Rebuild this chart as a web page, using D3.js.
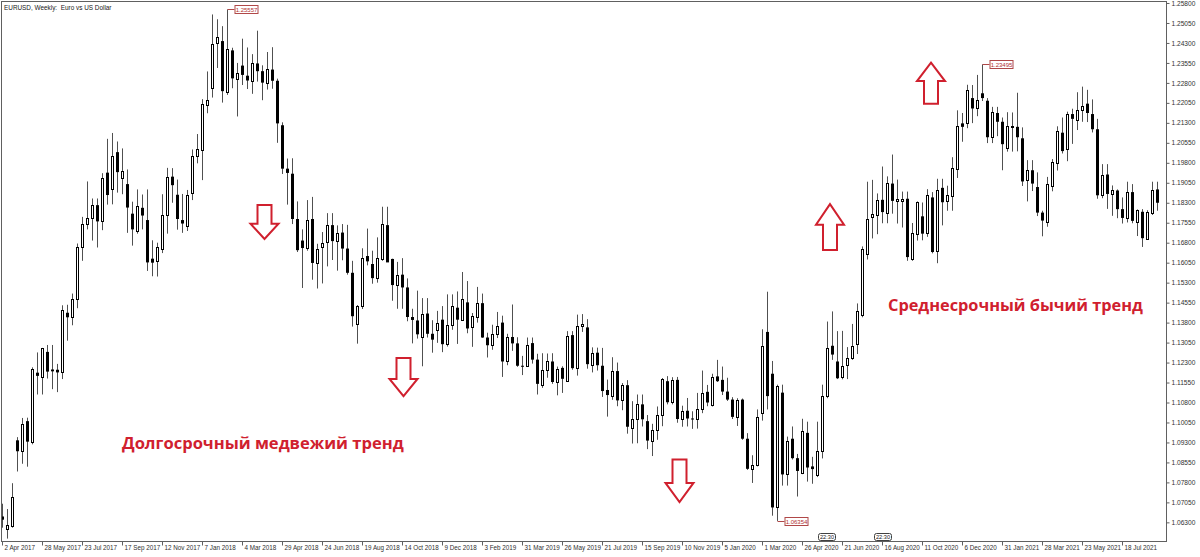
<!DOCTYPE html>
<html><head><meta charset="utf-8">
<script src="https://cdn.jsdelivr.net/npm/d3@7"></script>
<style>body{margin:0;background:#fff}svg{display:block}</style>
</head><body>
<svg id="c" width="1200" height="557"></svg>
<script>
const opens=[1.0652,1.0605,1.0615,1.0938,1.0897,1.1010,1.0933,1.1192,1.1175,1.1270,1.1204,1.1203,1.1194,1.1417,1.1400,1.1470,1.1665,1.1752,1.1772,1.1821,1.1760,1.1943,1.1880,1.2020,1.1922,1.1900,1.1789,1.1723,1.1811,1.1765,
1.1620,1.1612,1.1658,1.1785,1.1928,1.1860,1.1765,1.1743,1.1867,1.2005,1.2027,1.2197,1.2262,1.2428,1.2437,1.2246,1.2402,1.2293,1.2345,1.2307,1.2288,1.2353,1.2324,1.2281,1.2330,1.2288,1.2121,1.1958,1.1939,1.1769,
1.1688,1.1659,1.1769,1.1604,1.1662,1.1684,1.1746,1.1686,1.1718,1.1658,1.1567,1.1375,1.1441,1.1630,1.1600,1.1547,1.1619,1.1746,1.1619,1.1521,1.1560,1.1512,1.1401,1.1388,1.1325,1.1414,1.1338,1.1352,1.1391,1.1299,
1.1371,1.1436,1.1391,1.1456,1.1365,1.1401,1.1453,1.1324,1.1295,1.1336,1.1380,1.1234,1.1326,1.1302,1.1218,1.1217,1.1303,1.1241,1.1145,1.1201,1.1234,1.1157,1.1210,1.1162,1.1333,1.1208,1.1369,1.1362,1.1221,1.1267,
1.1218,1.1127,1.1104,1.1198,1.1088,1.1145,1.0986,1.1019,1.1073,1.1010,1.0937,1.0976,1.1032,1.1160,1.1081,1.1165,1.1019,1.1049,1.1020,1.1019,1.1054,1.1120,1.1071,1.1178,1.1165,1.1121,1.1091,1.1026,1.1091,1.0944,
1.0831,1.0846,1.1041,1.1345,1.1188,1.0686,1.1117,1.0810,1.0944,1.0871,1.0817,1.0966,1.0840,1.0806,1.0897,1.1106,1.1293,1.1234,1.1175,1.1220,1.1247,1.1299,1.1410,1.1638,1.1778,1.1785,1.1841,1.1792,1.1902,1.1837,
1.1838,1.1845,1.1619,1.1714,1.1779,1.1717,1.1850,1.1649,1.1886,1.1837,1.1854,1.1958,1.2128,1.2128,1.2223,1.2187,1.2241,1.2213,1.2076,1.2167,1.2134,1.2037,1.2116,1.2115,1.2072,1.1915,1.1952,1.1889,1.1793,1.1756,
1.1893,1.1978,1.2093,1.2030,1.2163,1.2141,1.2180,1.2202,1.2163,1.2106,1.1858,1.1936,1.1863,1.1876,1.1806,1.1773,1.1870,1.1759,1.1796,1.1694,1.1793,1.1880];
const highs=[1.0700,1.0680,1.0777,1.0950,1.1022,1.1023,1.1212,1.1268,1.1285,1.1296,1.1296,1.1225,1.1445,1.1447,1.1489,1.1677,1.1777,1.1910,1.1846,1.1846,1.1941,1.2070,1.2092,1.2060,1.2034,1.1955,1.1834,1.1880,1.1861,1.1880,
1.1689,1.1680,1.1862,1.1961,1.1960,1.1917,1.1863,1.1878,1.2030,1.2088,1.2219,1.2323,1.2537,1.2519,1.2493,1.25557,1.2412,1.2355,1.2446,1.2413,1.2388,1.2476,1.2346,1.2396,1.2414,1.2296,1.2132,1.1996,1.1997,1.1835,
1.1730,1.1840,1.1852,1.1676,1.1720,1.1791,1.1791,1.1745,1.1750,1.1747,1.1612,1.1446,1.1659,1.1733,1.1650,1.1700,1.1815,1.1815,1.1620,1.1608,1.1622,1.1546,1.1432,1.1500,1.1472,1.1472,1.1389,1.1424,1.1442,1.1486,
1.1486,1.1497,1.1570,1.1536,1.1416,1.1514,1.1489,1.1342,1.1372,1.1420,1.1406,1.1338,1.1448,1.1325,1.1255,1.1324,1.1324,1.1263,1.1265,1.1264,1.1265,1.1215,1.1216,1.1348,1.1348,1.1410,1.1412,1.1393,1.1287,1.1286,
1.1285,1.1166,1.1250,1.1230,1.1153,1.1164,1.1085,1.1110,1.1110,1.1033,1.1000,1.1065,1.1172,1.1179,1.1175,1.1176,1.1068,1.1097,1.1047,1.1116,1.1200,1.1146,1.1188,1.1240,1.1215,1.1173,1.1100,1.1096,1.1095,1.0965,
1.0882,1.1054,1.1355,1.1496,1.1236,1.1147,1.1147,1.0952,1.0990,1.0887,1.1019,1.1008,1.0876,1.1008,1.1147,1.1384,1.1422,1.1348,1.1349,1.1288,1.1375,1.1452,1.1666,1.1909,1.1916,1.1865,1.1966,1.1929,1.2011,1.1917,
1.1872,1.1872,1.1754,1.1835,1.1831,1.1881,1.1870,1.1920,1.1920,1.1894,1.2001,1.2177,1.2167,1.2273,1.2272,1.2310,1.23495,1.2223,1.2190,1.2190,1.2150,1.2170,1.2169,1.2243,1.2113,1.1990,1.1990,1.1944,1.1800,1.1927,
1.1994,1.2117,1.2150,1.2172,1.2183,1.2245,1.2266,1.2254,1.2218,1.2145,1.1975,1.1975,1.1895,1.1880,1.1850,1.1909,1.1900,1.1805,1.1806,1.1802,1.1909,1.1909];
const lows=[1.0610,1.0569,1.0610,1.0821,1.0850,1.0839,1.0923,1.1110,1.1110,1.1170,1.1130,1.1119,1.1168,1.1312,1.1370,1.1434,1.1612,1.1730,1.1688,1.1662,1.1727,1.1823,1.1824,1.1868,1.1862,1.1717,1.1669,1.1714,1.1730,1.1574,
1.1554,1.1553,1.1641,1.1714,1.1830,1.1729,1.1717,1.1724,1.1840,1.1978,1.1915,1.2166,1.2225,1.2336,1.2206,1.2235,1.2260,1.2154,1.2272,1.2257,1.2239,1.2285,1.2215,1.2255,1.2258,1.2055,1.1938,1.1823,1.1750,1.1645,
1.1510,1.1650,1.1541,1.1508,1.1527,1.1591,1.1615,1.1575,1.1614,1.1560,1.1365,1.1301,1.1431,1.1595,1.1526,1.1530,1.1612,1.1620,1.1462,1.1432,1.1432,1.1385,1.1302,1.1320,1.1216,1.1324,1.1267,1.1304,1.1269,1.1290,
1.1353,1.1300,1.1388,1.1340,1.1289,1.1380,1.1323,1.1249,1.1278,1.1322,1.1176,1.1220,1.1274,1.1214,1.1183,1.1215,1.1226,1.1110,1.1135,1.1173,1.1150,1.1107,1.1116,1.1159,1.1203,1.1181,1.1345,1.1207,1.1193,1.1200,
1.1101,1.1027,1.1090,1.1066,1.1051,1.0963,1.0926,1.0927,1.0990,1.0905,1.0879,1.0940,1.0991,1.1073,1.1073,1.1004,1.0989,1.0990,1.0981,1.0982,1.1040,1.1066,1.1065,1.1157,1.1108,1.1086,1.1018,1.0992,1.0940,1.0827,
1.0778,1.0840,1.1012,1.1054,1.0655,1.06354,1.0768,1.0768,1.0866,1.0727,1.0811,1.0783,1.0775,1.0800,1.0870,1.1096,1.1240,1.1168,1.1167,1.1168,1.1240,1.1262,1.1400,1.1617,1.1696,1.1712,1.1753,1.1753,1.1789,1.1752,
1.1737,1.1612,1.1612,1.1688,1.1689,1.1702,1.1640,1.1603,1.1745,1.1800,1.1800,1.1923,1.2059,1.2110,1.2129,1.2155,1.2212,1.2054,1.2054,1.2080,1.1952,1.2022,1.2022,1.2023,1.1893,1.1835,1.1874,1.1780,1.1704,1.1740,
1.1873,1.1951,1.2015,1.1986,1.2051,1.2103,1.2134,1.2133,1.2094,1.1845,1.1847,1.1807,1.1781,1.1772,1.1752,1.1756,1.1753,1.1705,1.1664,1.1693,1.1784,1.1800];
const closes=[1.0640,1.0620,1.0727,1.0897,1.0998,1.0933,1.1206,1.1180,1.1283,1.1196,1.1197,1.1193,1.1426,1.1400,1.1470,1.1665,1.1752,1.1772,1.1821,1.1760,1.1924,1.1859,1.2005,1.1945,1.1950,1.1812,1.1730,1.1817,1.1782,1.1606,
1.1605,1.1662,1.1785,1.1928,1.1896,1.1769,1.1752,1.1860,1.2005,1.2031,1.2200,1.2215,1.2426,1.2454,1.2249,1.2409,1.2297,1.2317,1.2310,1.2289,1.2356,1.2324,1.2281,1.2331,1.2288,1.2128,1.1958,1.1942,1.1769,1.1652,
1.1660,1.1766,1.1604,1.1655,1.1680,1.1746,1.1686,1.1718,1.1658,1.1567,1.1404,1.1441,1.1623,1.1610,1.1547,1.1623,1.1749,1.1606,1.1521,1.1558,1.1512,1.1401,1.1390,1.1336,1.1414,1.1338,1.1316,1.1380,1.1299,1.1371,
1.1443,1.1391,1.1468,1.1358,1.1404,1.1453,1.1324,1.1295,1.1336,1.1366,1.1234,1.1326,1.1302,1.1218,1.1217,1.1296,1.1241,1.1150,1.1201,1.1234,1.1157,1.1204,1.1169,1.1328,1.1209,1.1367,1.1373,1.1224,1.1267,1.1220,
1.1123,1.1108,1.1198,1.1088,1.1145,1.0989,1.1019,1.1073,1.1017,1.0937,1.0976,1.1032,1.1169,1.1081,1.1165,1.1018,1.1049,1.1020,1.1017,1.1054,1.1114,1.1080,1.1175,1.1160,1.1121,1.1091,1.1026,1.1091,1.0944,1.0831,
1.0846,1.1025,1.1293,1.1104,1.0686,1.1143,1.0810,1.0934,1.0871,1.0823,1.0973,1.0836,1.0830,1.0898,1.1106,1.1286,1.1260,1.1171,1.1218,1.1248,1.1293,1.1423,1.1658,1.1769,1.1789,1.1841,1.1795,1.1906,1.1837,1.1845,
1.1843,1.1626,1.1717,1.1832,1.1714,1.1860,1.1645,1.1876,1.1832,1.1860,1.1962,1.2119,1.2115,1.2254,1.2184,1.2215,1.2223,1.2076,1.2171,1.2134,1.2050,1.2119,1.2120,1.2076,1.1910,1.1952,1.1902,1.1793,1.1763,1.1899,
1.1984,1.2098,1.2024,1.2163,1.2145,1.2180,1.2195,1.2167,1.2106,1.1858,1.1936,1.1863,1.1876,1.1806,1.1773,1.1870,1.1762,1.1802,1.1697,1.1797,1.1876,1.1830];

const xTickIdx=[0,8,16,24,32,40,48,56,64,72,80,88,96,104,112,120,128,136,144,152,160,168,176,184,192,200,208,216,224];
const xLabels=["2 Apr 2017","28 May 2017","23 Jul 2017","17 Sep 2017","12 Nov 2017","7 Jan 2018","4 Mar 2018","29 Apr 2018","24 Jun 2018","19 Aug 2018","14 Oct 2018","9 Dec 2018","3 Feb 2019","31 Mar 2019","26 May 2019","21 Jul 2019","15 Sep 2019","10 Nov 2019","5 Jan 2020","1 Mar 2020","26 Apr 2020","21 Jun 2020","16 Aug 2020","11 Oct 2020","6 Dec 2020","31 Jan 2021","28 Mar 2021","23 May 2021","18 Jul 2021"];
const yTickLabels=["1.06300","1.07050","1.07800","1.08550","1.09300","1.10050","1.10800","1.11550","1.12300","1.13050","1.13800","1.14550","1.15300","1.16050","1.16800","1.17550","1.18300","1.19050","1.19800","1.20550","1.21300","1.22050","1.22800","1.23550","1.24300","1.25050","1.25800"];

const markIdx=[45,196,155];
const markVal=[1.25557,1.23495,1.06354];
const vlineLabels=["22:30","22:30"];
const vlineIdx=[163.2,174.4];

const arrowIdx=[52.5,80.3,135.5,165.6,185.8];
const arrowTop=[1.1822,1.1247,1.0866,1.1825,1.2356];
const arrowBottom=[1.1694,1.1104,1.0706,1.1653,1.2202];
const arrowDir=["down","down","down","up","up"];

const texts=["Долгосрочный медвежий тренд","Среднесрочный бычий тренд"];

const svg=d3.select("#c");
const W=1200,H=557;
const plotL=1,plotR=1166,plotT=1,plotB=541;
const x=d3.scaleLinear().domain([0,231]).range([2,1157]);
const y=d3.scaleLinear().domain([1.0560,1.25875]).range([plotB,plotT]);

svg.append("rect").attr("width",W).attr("height",H).attr("fill","#fff");

const data=opens.map((o,i)=>({i,o,h:highs[i],l:lows[i],c:closes[i]}));

const plot=svg.append("g");
plot.append("defs").append("clipPath").attr("id","clp").append("rect")
  .attr("x",plotL+1).attr("y",plotT+1).attr("width",plotR-plotL-1).attr("height",plotB-plotT-1);
const cg=plot.append("g").attr("clip-path","url(#clp)");

const cxOf=i=>Math.round(x(i))+0.5;
cg.selectAll("line.w").data(data).join("line").attr("class","w")
  .attr("x1",d=>cxOf(d.i)).attr("x2",d=>cxOf(d.i))
  .attr("y1",d=>y(d.h)).attr("y2",d=>y(d.l))
  .attr("stroke","#505050").attr("stroke-width",1);
cg.selectAll("rect.bear").data(data.filter(d=>d.c<d.o)).join("rect").attr("class","bear")
  .attr("x",d=>cxOf(d.i)-1.5).attr("width",3)
  .attr("y",d=>y(d.o)).attr("height",d=>Math.max(1,y(d.c)-y(d.o)))
  .attr("fill","#000");
cg.selectAll("rect.bull").data(data.filter(d=>d.c>=d.o)).join("rect").attr("class","bull")
  .attr("x",d=>cxOf(d.i)-1).attr("width",2)
  .attr("y",d=>Math.round(y(d.c))+0.5).attr("height",d=>Math.max(1,Math.round(y(d.o))-Math.round(y(d.c))))
  .attr("fill","#fff").attr("stroke","#000").attr("stroke-width",1);

svg.append("rect").attr("x",plotL+0.5).attr("y",plotT+0.5).attr("width",plotR-plotL).attr("height",plotB-plotT)
  .attr("fill","none").attr("stroke","#606060").attr("stroke-width",1);

const yAx=svg.append("g").attr("transform",`translate(${plotR+0.5},0)`)
  .call(d3.axisRight(y).tickValues(yTickLabels.map(Number)).tickFormat((d,i)=>yTickLabels[i]).tickSize(3).tickSizeOuter(0));
yAx.select(".domain").remove();
yAx.selectAll("line").attr("stroke","#606060");
yAx.selectAll("text").attr("x",5).attr("font-family","Liberation Sans, Arial, sans-serif").attr("font-size","6.6px").attr("fill","#303030");

const xAx=svg.append("g").attr("transform",`translate(0,${plotB+0.5})`)
  .call(d3.axisBottom(x).tickValues(xTickIdx).tickFormat((d,i)=>xLabels[i]).tickSize(4).tickSizeOuter(0));
xAx.select(".domain").remove();
xAx.selectAll(".tick").attr("transform",d=>`translate(${Math.round(x(d))+0.5},0)`);
xAx.selectAll("line").attr("stroke","#606060");
xAx.selectAll("text").attr("text-anchor","start").attr("x",2).attr("y",4).attr("dy","0.71em")
  .attr("font-family","Liberation Sans, Arial, sans-serif").attr("font-size","6.3px").attr("fill","#303030");

svg.append("text").attr("x",4).attr("y",10).attr("xml:space","preserve").style("white-space","pre")
  .attr("font-family","Liberation Sans, Arial, sans-serif").attr("font-size","6.4px").attr("fill","#202020")
  .text("EURUSD, Weekly:  Euro vs US Dollar");

const mk=svg.append("g");
markIdx.forEach((idx,k)=>{
  const cx=cxOf(idx), cy=Math.round(y(markVal[k]))+0.5;
  const bx=cx+7;
  mk.append("path").attr("d",`M${cx},${cy}H${bx}`).attr("stroke","#b04848").attr("fill","none");
  mk.append("rect").attr("x",bx+0.5).attr("y",cy-4).attr("width",23).attr("height",8)
    .attr("fill","#fff").attr("stroke","#b04848").attr("stroke-width",1);
  mk.append("text").attr("x",bx+12).attr("y",cy+2.2).attr("text-anchor","middle")
    .attr("font-family","Liberation Sans, Arial, sans-serif").attr("font-size","6px").attr("fill","#b03030")
    .text(markVal[k].toFixed(5));
});

vlineIdx.forEach((idx,k)=>{
  const bx=Math.round(x(idx))+0.5;
  mk.append("rect").attr("x",bx).attr("y",533.5).attr("width",17).attr("height",7).attr("rx",2)
    .attr("fill","#fff").attr("stroke","#404040");
  mk.append("text").attr("x",bx+8.5).attr("y",539.3).attr("text-anchor","middle")
    .attr("font-family","Liberation Sans, Arial, sans-serif").attr("font-size","5.6px").attr("fill","#202020")
    .text(vlineLabels[k]);
});

const red="#d0202e";
arrowIdx.forEach((idx,k)=>{
  const cx=x(idx), t=y(arrowTop[k]), b=y(arrowBottom[k]);
  const h=b-t, hw=14, sw=7, hh=h*0.45;
  let p;
  if(arrowDir[k]==="down"){
    p=`M${cx-sw},${t}H${cx+sw}V${b-hh}H${cx+hw}L${cx},${b}L${cx-hw},${b-hh}H${cx-sw}Z`;
  } else {
    p=`M${cx},${t}L${cx+hw},${t+hh}H${cx+sw}V${b}H${cx-sw}V${t+hh}H${cx-hw}Z`;
  }
  svg.append("path").attr("d",p).attr("fill","#fff").attr("stroke",red).attr("stroke-width",2).attr("stroke-linejoin","miter");
});

const tpos=[{i:24,p:1.0905,w:282},{i:177.2,p:1.1425,w:255}];
texts.forEach((s,k)=>{
  const t=svg.append("text").attr("x",x(tpos[k].i)).attr("y",y(tpos[k].p))
    .attr("font-family","Open Sans, Noto Sans, sans-serif").attr("font-weight",700)
    .attr("font-size","17px").attr("fill",red).text(s);
  const len=t.node().getComputedTextLength();
  t.attr("font-size",(17*tpos[k].w/len).toFixed(2)+"px");
});
</script>
</body></html>
